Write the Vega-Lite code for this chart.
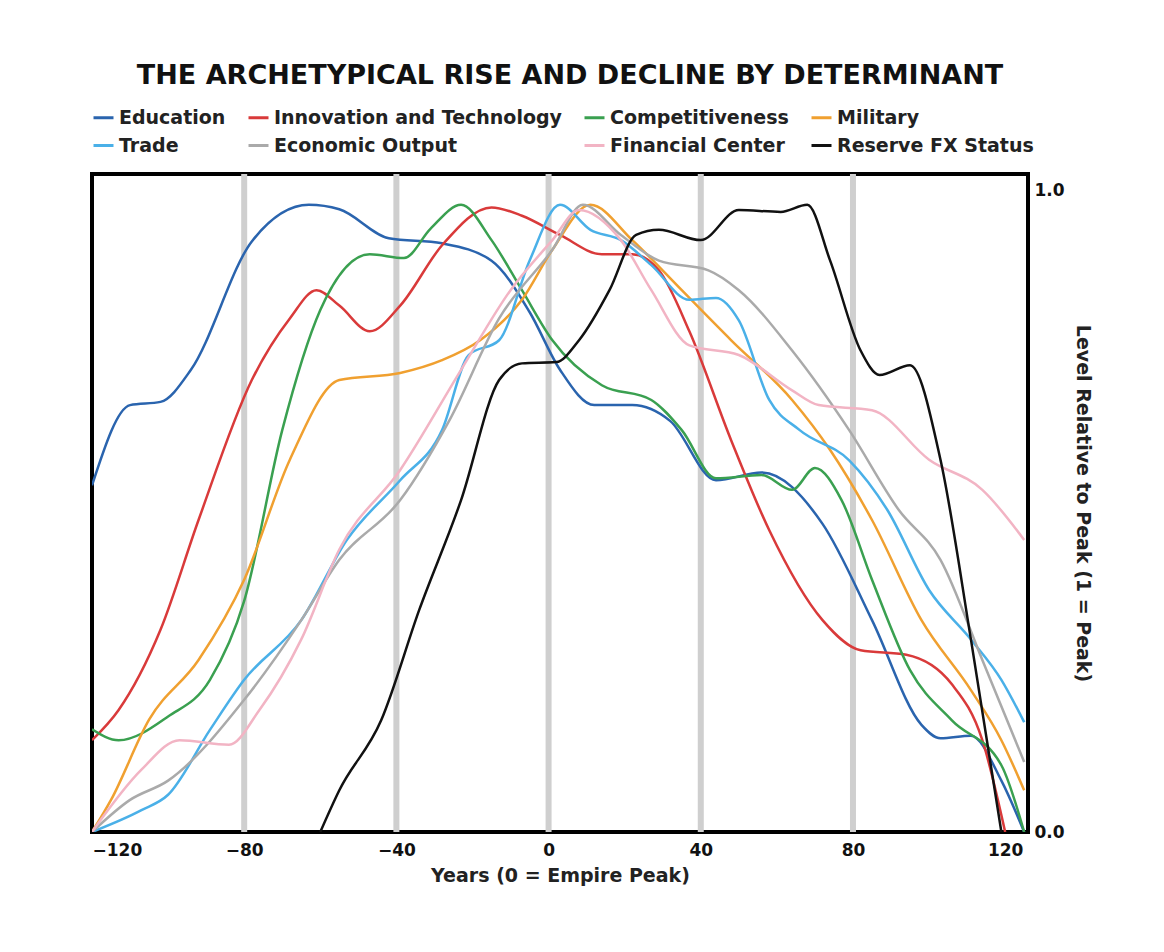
{
"$schema":"https://vega.github.io/schema/vega-lite/v6.json",
"width":936,"height":658,
"autosize":{"type":"none"},
"padding":{"left":92,"top":174,"right":136,"bottom":120},
"title":{"text":"THE ARCHETYPICAL RISE AND DECLINE BY DETERMINANT","font":"DejaVu Sans","fontSize":27,"fontWeight":"bold","color":"#111","anchor":"middle","offset":16,"dx":10},
"config":{"view":{"stroke":"#000","strokeWidth":4},"font":"DejaVu Sans"},
"layer":[
{"data":{"values":[{"x":-80},{"x":-40},{"x":0},{"x":40},{"x":80}]},
 "mark":{"type":"rule","color":"#cfcfcf","strokeWidth":6},
 "encoding":{"x":{"field":"x","type":"quantitative","scale":{"domain":[-120,126]}}}},
{"data":{"values":[
{"s":"Education","x":-120,"y":0.54},{"s":"Education","x":-110,"y":0.665},{"s":"Education","x":-102,"y":0.67},{"s":"Education","x":-94,"y":0.72},{"s":"Education","x":-78,"y":0.92},{"s":"Education","x":-63,"y":0.977},{"s":"Education","x":-55,"y":0.97},{"s":"Education","x":-42,"y":0.925},{"s":"Education","x":-28,"y":0.917},{"s":"Education","x":-15,"y":0.89},{"s":"Education","x":-5,"y":0.81},{"s":"Education","x":3,"y":0.72},{"s":"Education","x":12,"y":0.665},{"s":"Education","x":22,"y":0.665},{"s":"Education","x":32,"y":0.64},{"s":"Education","x":44,"y":0.548},{"s":"Education","x":56,"y":0.56},{"s":"Education","x":72,"y":0.48},{"s":"Education","x":85,"y":0.33},{"s":"Education","x":98,"y":0.167},{"s":"Education","x":103,"y":0.146},{"s":"Education","x":111,"y":0.15},{"s":"Education","x":119,"y":0.08},{"s":"Education","x":125,"y":0},
{"s":"Innovation and Technology","x":-120,"y":0.143},{"s":"Innovation and Technology","x":-113,"y":0.19},{"s":"Innovation and Technology","x":-102,"y":0.315},{"s":"Innovation and Technology","x":-92,"y":0.486},{"s":"Innovation and Technology","x":-78,"y":0.704},{"s":"Innovation and Technology","x":-68,"y":0.8},{"s":"Innovation and Technology","x":-61,"y":0.844},{"s":"Innovation and Technology","x":-55,"y":0.82},{"s":"Innovation and Technology","x":-47,"y":0.78},{"s":"Innovation and Technology","x":-39,"y":0.82},{"s":"Innovation and Technology","x":-28,"y":0.914},{"s":"Innovation and Technology","x":-15,"y":0.973},{"s":"Innovation and Technology","x":-7,"y":0.96},{"s":"Innovation and Technology","x":3,"y":0.93},{"s":"Innovation and Technology","x":14,"y":0.9},{"s":"Innovation and Technology","x":22,"y":0.9},{"s":"Innovation and Technology","x":29,"y":0.875},{"s":"Innovation and Technology","x":37,"y":0.78},{"s":"Innovation and Technology","x":48,"y":0.61},{"s":"Innovation and Technology","x":58,"y":0.47},{"s":"Innovation and Technology","x":72,"y":0.33},{"s":"Innovation and Technology","x":82,"y":0.283},{"s":"Innovation and Technology","x":94,"y":0.276},{"s":"Innovation and Technology","x":106,"y":0.23},{"s":"Innovation and Technology","x":114,"y":0.143},{"s":"Innovation and Technology","x":120,"y":0},
{"s":"Competitiveness","x":-120,"y":0.16},{"s":"Competitiveness","x":-113,"y":0.143},{"s":"Competitiveness","x":-100,"y":0.18},{"s":"Competitiveness","x":-89,"y":0.237},{"s":"Competitiveness","x":-80,"y":0.36},{"s":"Competitiveness","x":-70,"y":0.626},{"s":"Competitiveness","x":-60,"y":0.813},{"s":"Competitiveness","x":-47,"y":0.9},{"s":"Competitiveness","x":-38,"y":0.894},{"s":"Competitiveness","x":-31,"y":0.94},{"s":"Competitiveness","x":-23,"y":0.977},{"s":"Competitiveness","x":-15,"y":0.922},{"s":"Competitiveness","x":-7,"y":0.844},{"s":"Competitiveness","x":1,"y":0.766},{"s":"Competitiveness","x":14,"y":0.696},{"s":"Competitiveness","x":27,"y":0.673},{"s":"Competitiveness","x":35,"y":0.626},{"s":"Competitiveness","x":44,"y":0.551},{"s":"Competitiveness","x":56,"y":0.556},{"s":"Competitiveness","x":64,"y":0.533},{"s":"Competitiveness","x":70,"y":0.567},{"s":"Competitiveness","x":77,"y":0.517},{"s":"Competitiveness","x":85,"y":0.393},{"s":"Competitiveness","x":95,"y":0.252},{"s":"Competitiveness","x":106,"y":0.174},{"s":"Competitiveness","x":119,"y":0.104},{"s":"Competitiveness","x":125,"y":0},
{"s":"Military","x":-120,"y":0},{"s":"Military","x":-115,"y":0.05},{"s":"Military","x":-105,"y":0.175},{"s":"Military","x":-92,"y":0.268},{"s":"Military","x":-80,"y":0.393},{"s":"Military","x":-68,"y":0.58},{"s":"Military","x":-55,"y":0.704},{"s":"Military","x":-39,"y":0.715},{"s":"Military","x":-28,"y":0.735},{"s":"Military","x":-18,"y":0.766},{"s":"Military","x":-7,"y":0.829},{"s":"Military","x":1,"y":0.907},{"s":"Military","x":11,"y":0.977},{"s":"Military","x":22,"y":0.922},{"s":"Military","x":35,"y":0.844},{"s":"Military","x":48,"y":0.766},{"s":"Military","x":64,"y":0.673},{"s":"Military","x":74,"y":0.595},{"s":"Military","x":85,"y":0.486},{"s":"Military","x":98,"y":0.33},{"s":"Military","x":111,"y":0.221},{"s":"Military","x":119,"y":0.143},{"s":"Military","x":125,"y":0.065},
{"s":"Trade","x":-120,"y":0},{"s":"Trade","x":-107,"y":0.034},{"s":"Trade","x":-100,"y":0.058},{"s":"Trade","x":-89,"y":0.159},{"s":"Trade","x":-80,"y":0.237},{"s":"Trade","x":-65,"y":0.33},{"s":"Trade","x":-53,"y":0.455},{"s":"Trade","x":-39,"y":0.548},{"s":"Trade","x":-28,"y":0.626},{"s":"Trade","x":-21,"y":0.743},{"s":"Trade","x":-13,"y":0.766},{"s":"Trade","x":-5,"y":0.89},{"s":"Trade","x":3,"y":0.977},{"s":"Trade","x":11,"y":0.938},{"s":"Trade","x":19,"y":0.922},{"s":"Trade","x":27,"y":0.883},{"s":"Trade","x":37,"y":0.829},{"s":"Trade","x":44,"y":0.832},{"s":"Trade","x":50,"y":0.797},{"s":"Trade","x":58,"y":0.673},{"s":"Trade","x":66,"y":0.626},{"s":"Trade","x":79,"y":0.579},{"s":"Trade","x":89,"y":0.502},{"s":"Trade","x":100,"y":0.377},{"s":"Trade","x":111,"y":0.3},{"s":"Trade","x":119,"y":0.237},{"s":"Trade","x":125,"y":0.171},
{"s":"Economic Output","x":-120,"y":0},{"s":"Economic Output","x":-110,"y":0.05},{"s":"Economic Output","x":-100,"y":0.08},{"s":"Economic Output","x":-80,"y":0.206},{"s":"Economic Output","x":-65,"y":0.33},{"s":"Economic Output","x":-55,"y":0.424},{"s":"Economic Output","x":-39,"y":0.517},{"s":"Economic Output","x":-26,"y":0.642},{"s":"Economic Output","x":-13,"y":0.8},{"s":"Economic Output","x":1,"y":0.907},{"s":"Economic Output","x":9,"y":0.977},{"s":"Economic Output","x":19,"y":0.93},{"s":"Economic Output","x":29,"y":0.89},{"s":"Economic Output","x":42,"y":0.875},{"s":"Economic Output","x":50,"y":0.844},{"s":"Economic Output","x":64,"y":0.75},{"s":"Economic Output","x":79,"y":0.626},{"s":"Economic Output","x":92,"y":0.502},{"s":"Economic Output","x":103,"y":0.424},{"s":"Economic Output","x":114,"y":0.268},{"s":"Economic Output","x":125,"y":0.109},
{"s":"Financial Center","x":-120,"y":0},{"s":"Financial Center","x":-107,"y":0.097},{"s":"Financial Center","x":-97,"y":0.143},{"s":"Financial Center","x":-84,"y":0.136},{"s":"Financial Center","x":-76,"y":0.19},{"s":"Financial Center","x":-65,"y":0.3},{"s":"Financial Center","x":-55,"y":0.44},{"s":"Financial Center","x":-39,"y":0.564},{"s":"Financial Center","x":-23,"y":0.72},{"s":"Financial Center","x":-10,"y":0.844},{"s":"Financial Center","x":1,"y":0.922},{"s":"Financial Center","x":8,"y":0.969},{"s":"Financial Center","x":19,"y":0.922},{"s":"Financial Center","x":27,"y":0.844},{"s":"Financial Center","x":37,"y":0.758},{"s":"Financial Center","x":50,"y":0.743},{"s":"Financial Center","x":64,"y":0.688},{"s":"Financial Center","x":71,"y":0.665},{"s":"Financial Center","x":85,"y":0.657},{"s":"Financial Center","x":100,"y":0.58},{"s":"Financial Center","x":114,"y":0.533},{"s":"Financial Center","x":125,"y":0.455},
{"s":"Reserve FX Status","x":-60,"y":0},{"s":"Reserve FX Status","x":-55,"y":0.065},{"s":"Reserve FX Status","x":-44,"y":0.174},{"s":"Reserve FX Status","x":-34,"y":0.346},{"s":"Reserve FX Status","x":-23,"y":0.517},{"s":"Reserve FX Status","x":-13,"y":0.704},{"s":"Reserve FX Status","x":-7,"y":0.73},{"s":"Reserve FX Status","x":2,"y":0.732},{"s":"Reserve FX Status","x":8,"y":0.766},{"s":"Reserve FX Status","x":16,"y":0.844},{"s":"Reserve FX Status","x":23,"y":0.93},{"s":"Reserve FX Status","x":29,"y":0.938},{"s":"Reserve FX Status","x":40,"y":0.922},{"s":"Reserve FX Status","x":50,"y":0.969},{"s":"Reserve FX Status","x":61,"y":0.966},{"s":"Reserve FX Status","x":68,"y":0.977},{"s":"Reserve FX Status","x":74,"y":0.89},{"s":"Reserve FX Status","x":82,"y":0.75},{"s":"Reserve FX Status","x":87,"y":0.712},{"s":"Reserve FX Status","x":95,"y":0.727},{"s":"Reserve FX Status","x":103,"y":0.58},{"s":"Reserve FX Status","x":111,"y":0.3},{"s":"Reserve FX Status","x":119,"y":0}
]},
 "mark":{"type":"line","interpolate":"monotone","strokeWidth":2.5,"clip":true},
 "encoding":{
  "x":{"field":"x","type":"quantitative","scale":{"domain":[-120,126],"nice":false},
   "axis":{"values":[-120,-80,-40,0,40,80,120],"grid":false,"domain":false,"ticks":false,"labelFontSize":17,"labelFontWeight":"bold","labelColor":"#111","labelPadding":10,"title":"Years (0 = Empire Peak)","titleFontSize":19,"titleFontWeight":"bold","titleColor":"#222","titlePadding":8}},
  "y":{"field":"y","type":"quantitative","scale":{"domain":[0,1.025],"nice":false},
   "axis":{"orient":"right","values":[0,1],"grid":false,"domain":false,"ticks":false,"labelFontSize":17,"labelFontWeight":"bold","labelColor":"#111","labelPadding":6,"title":"Level Relative to Peak (1 = Peak)","titleAngle":90,"titleFontSize":19,"titleFontWeight":"bold","titleColor":"#222","titlePadding":8}},
  "color":{"field":"s","type":"nominal","sort":null,
   "scale":{"domain":["Education","Innovation and Technology","Competitiveness","Military","Trade","Economic Output","Financial Center","Reserve FX Status"],
    "range":["#2a64ae","#d93a3a","#3aa050","#f0a030","#4ab0e8","#aaaaaa","#f2b4c4","#111111"]},
   "legend":{"orient":"top","title":null,"columns":4,"symbolType":"stroke","symbolStrokeWidth":3,"symbolSize":400,"labelFontSize":19,"labelFontWeight":"bold","labelColor":"#222","columnPadding":16,"rowPadding":6,"offset":18,"labelLimit":400}}
 }}
]}
